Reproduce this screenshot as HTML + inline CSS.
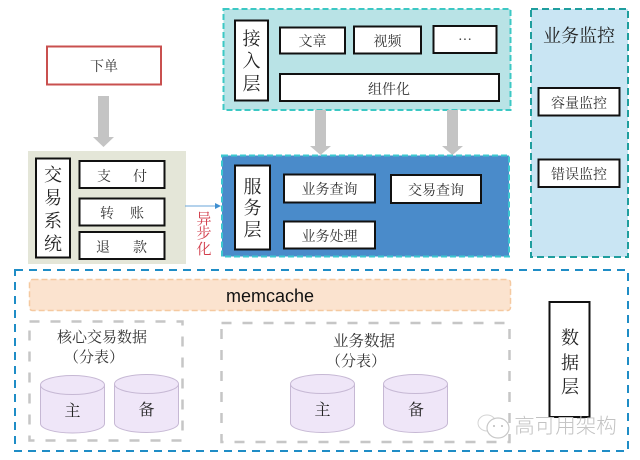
<!DOCTYPE html>
<html><head><meta charset="utf-8"><style>
html,body{margin:0;padding:0;background:#fff}
svg{display:block}
text{font-family:"Liberation Serif","Noto Serif CJK SC",serif;fill:#333;text-anchor:middle}
.b{fill:#fff;stroke:#111;stroke-width:2}
.l{font-size:14px}
.v{font-size:18px;fill:#222}
.c{fill:#efe6f8;stroke:#c6b8d4;stroke-width:1}
</style></head><body>
<svg width="640" height="460" viewBox="0 0 640 460" xmlns="http://www.w3.org/2000/svg">
<rect width="640" height="460" fill="#fff"/>

<!-- order -->
<rect x="47" y="46.500" width="114" height="38" fill="#fff" stroke="#c9504f" stroke-width="2"/>
<text x="104" y="71" class="l">下单</text>
<polygon points="98,96 109,96 109,137 114,137 103.500,147 93,137 98,137" fill="#c4c4c4"/>

<!-- trading -->
<rect x="28" y="151" width="158" height="113" fill="#e4e6d8"/>
<rect x="36" y="158.500" width="34" height="99" class="b"/>
<text x="53" y="181" class="v">交</text>
<text x="53" y="204" class="v">易</text>
<text x="53" y="227" class="v">系</text>
<text x="53" y="250" class="v">统</text>
<rect x="79.500" y="161" width="85" height="27" class="b"/>
<text x="104" y="181" class="l">支</text><text x="140" y="181" class="l">付</text>
<rect x="79.500" y="198.500" width="85" height="27" class="b"/>
<text x="107" y="218" class="l">转</text><text x="137" y="218" class="l">账</text>
<rect x="79.500" y="232" width="85" height="27" class="b"/>
<text x="103" y="252" class="l">退</text><text x="140" y="252" class="l">款</text>

<!-- async -->
<line x1="185" y1="206" x2="216" y2="206" stroke="#6aa6d8" stroke-width="1"/>
<polygon points="221,206 215,203 215,209" fill="#3f8fd0"/>
<text x="204" y="224" style="font-size:15px;fill:#d23c4a">异</text>
<text x="204" y="238" style="font-size:15px;fill:#d23c4a">步</text>
<text x="204" y="254" style="font-size:15px;fill:#d23c4a">化</text>

<!-- access layer -->
<rect x="223.500" y="9" width="287" height="101" fill="#b9e3e6" stroke="#3cc8c4" stroke-width="2" stroke-dasharray="6 3"/>
<rect x="235" y="20.500" width="33" height="80" class="b"/>
<text x="251.500" y="45" class="v">接</text>
<text x="251.500" y="67" class="v">入</text>
<text x="251.500" y="90" class="v">层</text>
<rect x="280" y="27.500" width="65" height="26" class="b"/>
<text x="312.500" y="46" class="l">文章</text>
<rect x="354" y="26.500" width="67" height="27" class="b"/>
<text x="387.500" y="46" class="l">视频</text>
<rect x="433.500" y="26" width="63" height="27" class="b"/>
<text x="465" y="44" class="l">···</text>
<rect x="280" y="74" width="219" height="27" class="b"/>
<text x="389" y="94" class="l">组件化</text>

<polygon points="315,110 326,110 326,146 331,146 320.500,155 310,146 315,146" fill="#c4c4c4"/>
<polygon points="447,110 458,110 458,146 463,146 452.500,155 442,146 447,146" fill="#c4c4c4"/>

<!-- service layer -->
<rect x="222" y="155.500" width="287" height="101" fill="#4a8bca" stroke="#3cc8d0" stroke-width="2" stroke-dasharray="6 3"/>
<rect x="235" y="165.500" width="35" height="84" class="b"/>
<text x="252.500" y="193" class="v">服</text>
<text x="252.500" y="214" class="v">务</text>
<text x="252.500" y="236" class="v">层</text>
<rect x="284" y="174.500" width="91" height="28" class="b"/>
<text x="329.500" y="194" class="l">业务查询</text>
<rect x="391" y="175" width="90" height="28" class="b"/>
<text x="436" y="195" class="l">交易查询</text>
<rect x="284" y="221.500" width="91" height="27" class="b"/>
<text x="329.500" y="241" class="l">业务处理</text>

<!-- monitor -->
<rect x="531" y="9" width="97" height="248" fill="#c9e5f3" stroke="#1f9e9e" stroke-width="2" stroke-dasharray="7 4"/>
<text x="579" y="42" style="font-size:18px;fill:#222">业务监控</text>
<rect x="538.500" y="88" width="81" height="27.500" class="b"/>
<text x="579" y="108" class="l">容量监控</text>
<rect x="538.500" y="159.500" width="81" height="27.500" class="b"/>
<text x="579" y="179" class="l">错误监控</text>

<!-- data layer -->
<rect x="15" y="270" width="613" height="181" fill="#fff" stroke="#1f8dc6" stroke-width="2" stroke-dasharray="8 6"/>
<rect x="29.500" y="279.500" width="481" height="31" rx="3" fill="#fbe3cf" stroke="#f5c9a0" stroke-width="1.500" stroke-dasharray="6 3"/>
<text x="270" y="302" style="font-family:'Liberation Sans',sans-serif;font-size:18px;fill:#111">memcache</text>

<rect x="29.500" y="321.500" width="153" height="119" fill="none" stroke="#c6c6c6" stroke-width="2.500" stroke-dasharray="10 11"/>
<text x="102" y="342" class="l" style="font-size:15px">核心交易数据</text>
<text x="94" y="362" class="l" style="font-size:15px">（分表）</text>
<rect x="221.500" y="323" width="288" height="119" fill="none" stroke="#c6c6c6" stroke-width="2.500" stroke-dasharray="10 11"/>
<text x="364" y="346" class="l" style="font-size:15.500px">业务数据</text>
<text x="356" y="366" class="l" style="font-size:15px">（分表）</text>

<path class="c" d="M40.500 385V423.500C40.500 429 55 433 72.500 433S104.500 429 104.500 423.500V385"/>
<ellipse class="c" cx="72.500" cy="385" rx="32" ry="9.500"/>
<text x="72.500" y="416" class="l" style="font-size:16px;fill:#222">主</text>
<path class="c" d="M114.500 384V423C114.500 428.500 129 432.500 146.500 432.500S178.500 428.500 178.500 423V384"/>
<ellipse class="c" cx="146.500" cy="384" rx="32" ry="9.500"/>
<text x="146.500" y="415" class="l" style="font-size:16px;fill:#222">备</text>
<path class="c" d="M290.500 384V423C290.500 428.500 305 432.500 322.500 432.500S354.500 428.500 354.500 423V384"/>
<ellipse class="c" cx="322.500" cy="384" rx="32" ry="9.500"/>
<text x="322.500" y="415" class="l" style="font-size:16px;fill:#222">主</text>
<path class="c" d="M383.500 384V423C383.500 428.500 398 432.500 415.500 432.500S447.500 428.500 447.500 423V384"/>
<ellipse class="c" cx="415.500" cy="384" rx="32" ry="9.500"/>
<text x="416" y="415" class="l" style="font-size:16px;fill:#222">备</text>

<rect x="549.500" y="302" width="40" height="115" fill="#fff" stroke="#111" stroke-width="2"/>
<text x="570" y="344" class="v">数</text>
<text x="570" y="369" class="v">据</text>
<text x="570" y="393" class="v">层</text>

<!-- watermark -->
<ellipse cx="487" cy="423" rx="9" ry="8" fill="#fff" stroke="#d4d4d4" stroke-width="1"/>
<ellipse cx="498" cy="428" rx="11" ry="10" fill="#fff" stroke="#c8c8c8" stroke-width="1.200"/>
<circle cx="494" cy="426" r="1" fill="#bbb"/><circle cx="502" cy="426" r="1" fill="#bbb"/>
<text x="565.500" y="433" style="font-family:'Liberation Sans','Noto Sans CJK SC',sans-serif;font-size:20.500px;fill:#c2c2c2;font-weight:300">高可用架构</text>
</svg>
</body></html>
